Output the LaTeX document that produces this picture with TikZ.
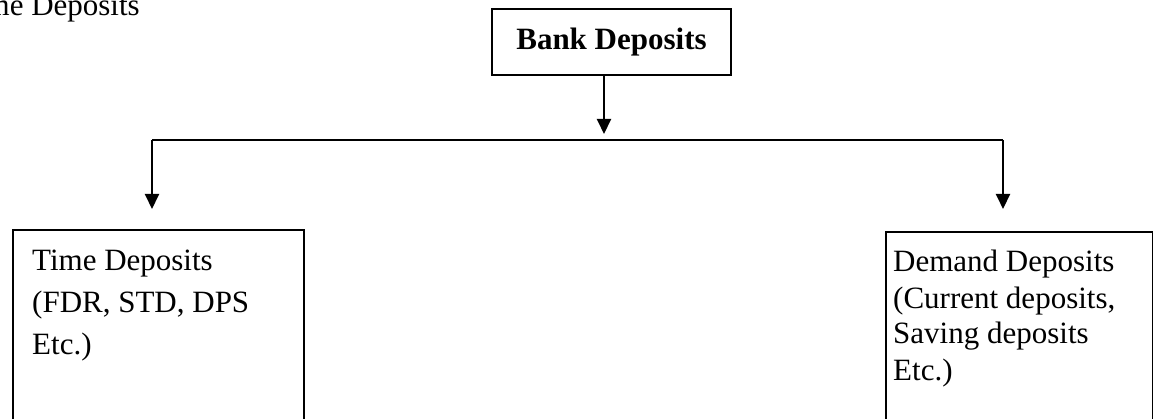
\documentclass[tikz,border=0pt]{standalone}
\usepackage{fontspec}
\setmainfont{Liberation Serif}
\usepackage{tikz}
\usetikzlibrary{arrows.meta}

\tikzset{
  box/.style={draw, line width=2pt, inner sep=0pt},
  txt/.style={inner sep=0pt, align=left, anchor=base west},
  arr/.style={line width=2pt, -{Triangle[length=15pt,width=14pt]}}
}

\begin{document}
\begin{tikzpicture}[x=1pt,y=-1pt,font=\fontsize{31}{36}\selectfont]
\useasboundingbox (0,0) rectangle (1153,419);
\clip (0,0) rectangle (1153,419);

% heading left over from the page above
\node[inner sep=0pt, anchor=base east] (oldhead) at (140,16) {Time Deposits};

% top box
\node[box, minimum width=239pt, minimum height=66pt] (bank) at (611.5,42.5) {\bfseries Bank Deposits};

% the two lower boxes (text placed by its last line)
\node[box, anchor=north west, minimum width=291pt, minimum height=230pt] (time) at (12,229) {};
\node[txt, font=\fontsize{31}{42}\selectfont] (timetext) at (32,354) {Time Deposits\\(FDR, STD, DPS\\Etc.)};

\node[box, anchor=north west, minimum width=267pt, minimum height=230pt] (demand) at (885,231) {};
\node[txt] (demandtext) at (893,380) {Demand Deposits\\(Current deposits,\\Saving deposits\\Etc.)};

% connectors
\coordinate (bar) at (604,140);
\coordinate (barleft) at (152,140);
\coordinate (barright) at (1003,140);

\draw[arr, shorten >=6pt] (bank.south -| bar) -- (bar);
\draw[line width=2pt] (barleft) -- (barright);
\draw[arr, shorten >=20pt] (barleft) -- (barleft |- time.north);
\draw[arr, shorten >=22pt] (barright) -- (barright |- demand.north);
\end{tikzpicture}
\end{document}
